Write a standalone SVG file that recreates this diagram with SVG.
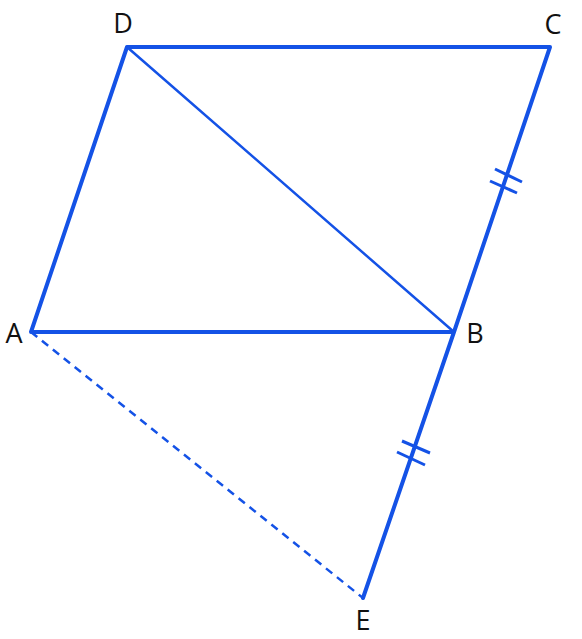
<svg xmlns="http://www.w3.org/2000/svg" width="582" height="639" viewBox="0 0 582 639">
<style>
.thick{stroke:#1452e6;stroke-width:4;fill:none;stroke-linecap:round;stroke-linejoin:round}
.thin{stroke:#1452e6;stroke-width:2.5;fill:none;stroke-linecap:round}
.dash{stroke:#1452e6;stroke-width:2.5;fill:none;stroke-dasharray:8 6}
.tick{stroke:#1452e6;stroke-width:3;fill:none}
.lbl{font-family:"Open Sans","Noto Sans",sans-serif;font-size:27px;fill:#111;text-anchor:middle}
</style>
<rect width="582" height="639" fill="#fff"/>
<g id="connectors">
<polyline class="thick" points="454,332 31,332 127,47 550,47 454,332 363,598"/>
<line class="thin" x1="127" y1="47" x2="454" y2="332"/>
<line class="dash" x1="31" y1="332" x2="363" y2="598"/>
<line class="tick" x1="495" y1="169" x2="522" y2="182"/>
<line class="tick" x1="490" y1="181" x2="517" y2="193"/>
<line class="tick" x1="402" y1="441" x2="430" y2="453"/>
<line class="tick" x1="397" y1="452" x2="425" y2="465"/>
</g>
<g id="D"><text class="lbl" x="123" y="33">D</text></g>
<g id="C"><text class="lbl" x="553" y="34">C</text></g>
<g id="A"><text class="lbl" x="14" y="343">A</text></g>
<g id="B"><text class="lbl" x="475" y="343">B</text></g>
<g id="E"><text class="lbl" x="363" y="630">E</text></g>
</svg>
